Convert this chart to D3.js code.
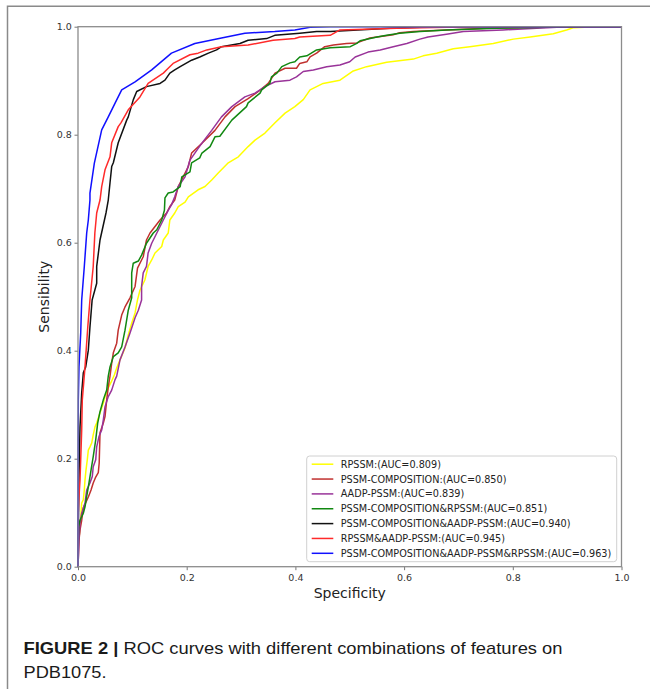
<!DOCTYPE html>
<html>
<head>
<meta charset="utf-8">
<script src="https://cdn.jsdelivr.net/npm/d3@7"></script>
<style>
  body { margin: 0; background: #fff; }
  svg { display: block; }
</style>
</head>
<body>
<div id="chart"></div>
<script>
// ROC points: [1 - specificity, sensitivity]
const rpssmRoc = [[0, 0], [0, 0.012], [0.0006, 0.037], [0.0037, 0.074], [0.0055, 0.099], [0.0068, 0.118], [0.0098, 0.124], [0.0116, 0.142], [0.0129, 0.161], [0.0147, 0.179], [0.0171, 0.198], [0.019, 0.216], [0.022, 0.222], [0.0252, 0.229], [0.028, 0.244], [0.0313, 0.259], [0.0344, 0.266], [0.0405, 0.285], [0.0466, 0.303], [0.0497, 0.315], [0.0557, 0.331], [0.062, 0.344], [0.0668, 0.355], [0.0712, 0.368], [0.0773, 0.383], [0.0865, 0.405], [0.0925, 0.429], [0.0988, 0.451], [0.105, 0.47], [0.1095, 0.494], [0.114, 0.512], [0.123, 0.531], [0.129, 0.556], [0.1356, 0.568], [0.1417, 0.581], [0.154, 0.593], [0.157, 0.605], [0.166, 0.618], [0.169, 0.642], [0.178, 0.655], [0.1845, 0.667], [0.197, 0.675], [0.203, 0.685], [0.221, 0.698], [0.2337, 0.704], [0.246, 0.716], [0.258, 0.729], [0.2765, 0.748], [0.295, 0.759], [0.313, 0.778], [0.3257, 0.79], [0.344, 0.803], [0.3625, 0.822], [0.381, 0.84], [0.399, 0.852], [0.4145, 0.865], [0.427, 0.883], [0.451, 0.895], [0.482, 0.901], [0.5065, 0.918], [0.531, 0.926], [0.568, 0.934], [0.617, 0.94], [0.635, 0.946], [0.66, 0.951], [0.6905, 0.959], [0.721, 0.963], [0.764, 0.969], [0.801, 0.977], [0.832, 0.981], [0.8745, 0.987], [0.899, 0.994], [0.911, 0.998], [0.954, 1], [1, 1]];

const pssmCompRoc = [[0, 0], [0.0018, 0.049], [0.0037, 0.068], [0.0068, 0.086], [0.0098, 0.109], [0.019, 0.129], [0.024, 0.142], [0.028, 0.155], [0.0326, 0.166], [0.0373, 0.174], [0.039, 0.192], [0.0405, 0.248], [0.0466, 0.266], [0.0497, 0.278], [0.0528, 0.309], [0.0557, 0.333], [0.0589, 0.353], [0.062, 0.377], [0.065, 0.396], [0.0712, 0.414], [0.074, 0.438], [0.0804, 0.466], [0.0865, 0.481], [0.0957, 0.498], [0.105, 0.519], [0.1095, 0.553], [0.12, 0.574], [0.126, 0.605], [0.1325, 0.618], [0.1417, 0.63], [0.151, 0.642], [0.163, 0.655], [0.169, 0.667], [0.178, 0.679], [0.1845, 0.704], [0.203, 0.741], [0.209, 0.766], [0.228, 0.784], [0.252, 0.808], [0.2705, 0.833], [0.289, 0.852], [0.313, 0.867], [0.332, 0.88], [0.35, 0.895], [0.3625, 0.914], [0.381, 0.923], [0.402, 0.923], [0.408, 0.932], [0.421, 0.935], [0.427, 0.944], [0.439, 0.951], [0.454, 0.963], [0.47, 0.966], [0.494, 0.969], [0.513, 0.97], [0.537, 0.979], [0.58, 0.985], [0.592, 0.989], [0.617, 0.991], [0.678, 0.994], [0.752, 0.997], [0.85, 0.999], [0.924, 1], [1, 1]];

const aadpRoc = [[0, 0], [0.0018, 0.049], [0.0037, 0.08], [0.0068, 0.099], [0.0129, 0.118], [0.016, 0.142], [0.022, 0.155], [0.0263, 0.167], [0.028, 0.185], [0.0326, 0.198], [0.0344, 0.222], [0.0386, 0.241], [0.0436, 0.253], [0.0466, 0.272], [0.0497, 0.296], [0.0557, 0.315], [0.062, 0.327], [0.068, 0.346], [0.0712, 0.353], [0.0773, 0.383], [0.0865, 0.407], [0.0957, 0.433], [0.105, 0.461], [0.111, 0.475], [0.117, 0.494], [0.117, 0.519], [0.12, 0.544], [0.126, 0.556], [0.129, 0.581], [0.1356, 0.599], [0.145, 0.618], [0.151, 0.63], [0.157, 0.642], [0.166, 0.66], [0.172, 0.67], [0.178, 0.685], [0.1845, 0.704], [0.197, 0.722], [0.206, 0.753], [0.215, 0.766], [0.2276, 0.784], [0.246, 0.808], [0.264, 0.833], [0.283, 0.852], [0.307, 0.87], [0.3257, 0.877], [0.344, 0.889], [0.3625, 0.898], [0.39, 0.901], [0.402, 0.907], [0.4145, 0.917], [0.433, 0.92], [0.4576, 0.926], [0.482, 0.929], [0.5, 0.935], [0.51, 0.944], [0.5336, 0.953], [0.556, 0.957], [0.58, 0.963], [0.605, 0.969], [0.629, 0.977], [0.644, 0.981], [0.678, 0.986], [0.709, 0.991], [0.782, 0.994], [0.844, 0.997], [0.881, 0.999], [0.911, 1], [1, 1]];

const compRpssmRoc = [[0, 0], [0.0006, 0.049], [0.001, 0.074], [0.0037, 0.086], [0.0098, 0.099], [0.0129, 0.111], [0.016, 0.13], [0.019, 0.148], [0.024, 0.179], [0.028, 0.204], [0.0326, 0.235], [0.0362, 0.266], [0.0405, 0.287], [0.0466, 0.309], [0.0528, 0.327], [0.0557, 0.353], [0.0589, 0.37], [0.065, 0.389], [0.074, 0.396], [0.0804, 0.407], [0.0865, 0.438], [0.0925, 0.475], [0.0988, 0.498], [0.0988, 0.544], [0.1017, 0.562], [0.111, 0.566], [0.117, 0.577], [0.126, 0.599], [0.1385, 0.618], [0.145, 0.624], [0.154, 0.642], [0.159, 0.66], [0.16, 0.683], [0.166, 0.692], [0.175, 0.694], [0.188, 0.704], [0.191, 0.722], [0.206, 0.731], [0.209, 0.748], [0.224, 0.757], [0.228, 0.766], [0.243, 0.778], [0.252, 0.796], [0.261, 0.797], [0.283, 0.827], [0.31, 0.852], [0.313, 0.859], [0.335, 0.877], [0.338, 0.883], [0.353, 0.895], [0.356, 0.907], [0.366, 0.914], [0.375, 0.926], [0.39, 0.933], [0.399, 0.935], [0.408, 0.944], [0.421, 0.946], [0.439, 0.957], [0.464, 0.961], [0.501, 0.963], [0.513, 0.969], [0.519, 0.974], [0.55, 0.981], [0.568, 0.984], [0.592, 0.988], [0.629, 0.991], [0.678, 0.994], [0.77, 0.997], [0.862, 0.999], [0.924, 1], [1, 1]];

const compAadpRoc = [[0, 0], [0.001, 0.1], [0.0018, 0.16], [0.0037, 0.259], [0.0068, 0.322], [0.0098, 0.359], [0.0142, 0.37], [0.019, 0.401], [0.022, 0.444], [0.026, 0.494], [0.0344, 0.525], [0.0344, 0.556], [0.0405, 0.605], [0.0515, 0.655], [0.0557, 0.679], [0.0589, 0.711], [0.062, 0.741], [0.065, 0.748], [0.074, 0.785], [0.0896, 0.827], [0.0925, 0.833], [0.1018, 0.865], [0.108, 0.88], [0.126, 0.889], [0.151, 0.895], [0.16, 0.901], [0.169, 0.914], [0.178, 0.92], [0.188, 0.926], [0.209, 0.938], [0.224, 0.944], [0.24, 0.951], [0.255, 0.957], [0.264, 0.963], [0.298, 0.969], [0.313, 0.975], [0.347, 0.978], [0.362, 0.984], [0.408, 0.988], [0.439, 0.991], [0.464, 0.991], [0.574, 0.997], [0.63, 0.999], [0.7, 1], [1, 1]];

const rpssmAadpRoc = [[0, 0], [0.0005, 0.1], [0.0018, 0.13], [0.0037, 0.16], [0.0068, 0.253], [0.0079, 0.309], [0.0129, 0.37], [0.018, 0.444], [0.022, 0.494], [0.028, 0.556], [0.031, 0.618], [0.0344, 0.655], [0.0405, 0.679], [0.0436, 0.704], [0.0497, 0.735], [0.0589, 0.759], [0.062, 0.785], [0.074, 0.815], [0.079, 0.822], [0.0925, 0.846], [0.114, 0.87], [0.129, 0.895], [0.157, 0.914], [0.166, 0.923], [0.175, 0.932], [0.206, 0.948], [0.221, 0.951], [0.237, 0.957], [0.264, 0.963], [0.313, 0.966], [0.359, 0.975], [0.399, 0.978], [0.408, 0.981], [0.464, 0.984], [0.482, 0.994], [0.586, 0.997], [0.678, 0.999], [0.75, 1], [1, 1]];

const allRoc = [[0, 0], [0, 0.15], [0.0006, 0.309], [0.0018, 0.37], [0.005, 0.433], [0.0068, 0.494], [0.0116, 0.556], [0.016, 0.618], [0.019, 0.642], [0.022, 0.679], [0.022, 0.692], [0.03, 0.747], [0.0313, 0.753], [0.0436, 0.809], [0.0557, 0.833], [0.068, 0.858], [0.0804, 0.883], [0.105, 0.898], [0.1356, 0.92], [0.172, 0.951], [0.215, 0.969], [0.264, 0.979], [0.307, 0.988], [0.362, 0.991], [0.399, 0.994], [0.427, 0.999], [0.464, 1], [1, 1]];

const seriesLabels = [
  'RPSSM:(AUC=0.809)',
  'PSSM-COMPOSITION:(AUC=0.850)',
  'AADP-PSSM:(AUC=0.839)',
  'PSSM-COMPOSITION&RPSSM:(AUC=0.851)',
  'PSSM-COMPOSITION&AADP-PSSM:(AUC=0.940)',
  'RPSSM&AADP-PSSM:(AUC=0.945)',
  'PSSM-COMPOSITION&AADP-PSSM&RPSSM:(AUC=0.963)',
];
const seriesData = [rpssmRoc, pssmCompRoc, aadpRoc, compRpssmRoc, compAadpRoc, rpssmAadpRoc, allRoc];
const axisTicks = [0, 0.2, 0.4, 0.6, 0.8, 1.0];
const xLabel = 'Specificity';
const yLabel = 'Sensibility';
const captionBold = 'FIGURE 2 | ';
const captionLine1 = 'ROC curves with different combinations of features on';
const captionLine2 = 'PDB1075.';

const lineColors = ['#ffff00', '#c0302e', '#993399', '#118811', '#111111', '#ff2a2a', '#1010ff'];

const width = 650;
const height = 689;
const margin = { left: 78, top: 26.7, right: 28.5, bottom: 122.3 };
const plotW = width - margin.left - margin.right;
const plotH = height - margin.top - margin.bottom;

const svg = d3.select('#chart')
  .append('svg')
  .attr('width', width)
  .attr('height', height);

// figure frame (left and top edges only)
svg.append('path')
  .attr('d', `M7.5,${height} L7.5,6.3 L${width},6.3`)
  .attr('fill', 'none')
  .attr('stroke', '#8a8a8a')
  .attr('stroke-width', 1.5);

const xScale = d3.scaleLinear().domain([0, 1]).range([0, plotW]);
const yScale = d3.scaleLinear().domain([0, 1]).range([plotH, 0]);

const plot = svg.append('g')
  .attr('transform', `translate(${margin.left}, ${margin.top})`);

const fmt = d3.format('.1f');

const xAxis = plot.append('g')
  .attr('transform', `translate(0, ${plotH})`)
  .call(d3.axisBottom(xScale).tickValues(axisTicks).tickFormat(fmt).tickSize(3.5).tickPadding(3.6));

const yAxis = plot.append('g')
  .call(d3.axisLeft(yScale).tickValues(axisTicks).tickFormat(fmt).tickSize(3.5).tickPadding(2.6));

[xAxis, yAxis].forEach((ax) => {
  ax.select('.domain').remove();
  ax.selectAll('line').attr('stroke', '#777').attr('stroke-width', 1);
  ax.selectAll('text')
    .attr('fill', '#333')
    .style('font-family', 'DejaVu Sans')
    .style('font-size', '9.5px');
});

const line = d3.line()
  .x((d) => xScale(d[0]))
  .y((d) => yScale(d[1]));

plot.append('g')
  .selectAll('path')
  .data(seriesData)
  .enter()
  .append('path')
  .attr('d', line)
  .attr('fill', 'none')
  .attr('stroke', (d, i) => lineColors[i])
  .attr('stroke-width', 1.5)
  .attr('stroke-linejoin', 'round');

plot.append('rect')
  .attr('width', plotW)
  .attr('height', plotH)
  .attr('fill', 'none')
  .attr('stroke', '#8c8c8c')
  .attr('stroke-width', 1.3);

svg.append('text')
  .attr('x', margin.left + plotW / 2)
  .attr('y', 598)
  .attr('text-anchor', 'middle')
  .attr('fill', '#222')
  .style('font-family', 'DejaVu Sans')
  .style('font-size', '14px')
  .text(xLabel);

svg.append('text')
  .attr('transform', `translate(48.5, ${margin.top + plotH / 2}) rotate(-90)`)
  .attr('text-anchor', 'middle')
  .attr('fill', '#222')
  .style('font-family', 'DejaVu Sans')
  .style('font-size', '14px')
  .text(yLabel);

// legend
const legend = svg.append('g');
legend.append('rect')
  .attr('x', 306.7)
  .attr('y', 456)
  .attr('width', 310)
  .attr('height', 105.7)
  .attr('rx', 3)
  .attr('fill', '#fff')
  .attr('fill-opacity', 0.85)
  .attr('stroke', '#d0d0d0')
  .attr('stroke-width', 1);

const items = legend.selectAll('g.item')
  .data(seriesLabels)
  .enter()
  .append('g')
  .attr('class', 'item')
  .attr('transform', (d, i) => `translate(311.7, ${464.2 + i * 14.85})`);

items.append('line')
  .attr('x2', 21.6)
  .attr('stroke', (d, i) => lineColors[i])
  .attr('stroke-width', 1.5);

const itemText = items.append('text')
  .attr('x', 29)
  .attr('dy', '0.36em')
  .attr('fill', '#222')
  .style('font-family', 'DejaVu Sans')
  .style('font-size', '10px')
  .text((d) => d);

const longest = d3.max(itemText.nodes(), (n) => n.getComputedTextLength());
itemText.style('font-size', `${(10 * 271) / longest}px`);

// caption
const cap1 = svg.append('text')
  .attr('x', 23.5)
  .attr('y', 653.5)
  .attr('fill', '#1a1a1a')
  .style('font-family', 'Liberation Sans')
  .style('font-size', '17px');
cap1.append('tspan').style('font-weight', 'bold').text(captionBold);
cap1.append('tspan').text(captionLine1);
cap1.attr('textLength', 539).attr('lengthAdjust', 'spacingAndGlyphs');

svg.append('text')
  .attr('x', 23.5)
  .attr('y', 678)
  .attr('fill', '#1a1a1a')
  .style('font-family', 'Liberation Sans')
  .style('font-size', '17px')
  .attr('textLength', 83)
  .attr('lengthAdjust', 'spacingAndGlyphs')
  .text(captionLine2);
</script>
</body>
</html>
